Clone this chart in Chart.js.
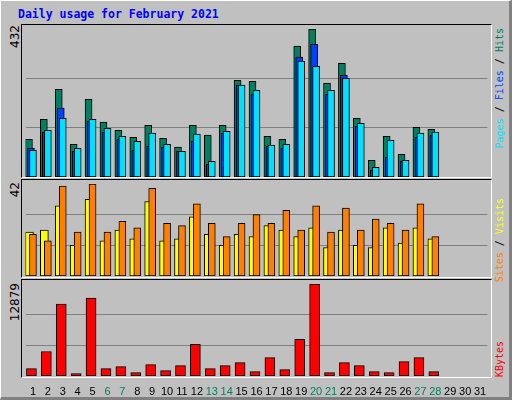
<!DOCTYPE html>
<html><head><meta charset="utf-8">
<script src="https://cdn.jsdelivr.net/npm/chart.js@4"></script>
<style>
body{margin:0;background:#fff;}
#frame{position:absolute;left:0;top:0;width:508px;height:396px;background:#c0c0c0;border-left:1px solid #fff;border-top:1px solid #fff;border-right:3px solid #808080;border-bottom:3px solid #808080;}
.panel{position:absolute;left:21px;width:469px;border-left:1px solid #000;border-top:1px solid #000;border-right:1px solid #fff;border-bottom:1px solid #fff;background:#c0c0c0;}
canvas{position:absolute;}
.v{position:absolute;writing-mode:vertical-rl;transform:rotate(180deg);white-space:nowrap;}
.lt{font-family:"DejaVu Sans",sans-serif;font-size:12px;color:#000;left:8px;}
.rt{font-family:"DejaVu Sans Mono",monospace;font-size:10px;left:494px;}
#title{position:absolute;left:18px;top:7px;font:bold 11.5px "DejaVu Sans Mono",monospace;color:#0000ff;}
</style></head><body>
<div id="frame"></div>
<div id="title">Daily usage for February 2021</div>
<div class="panel" style="top:24px;height:152px"></div>
<div class="panel" style="top:179px;height:97px"></div>
<div class="panel" style="top:279px;height:97px"></div>
<div class="v lt" style="top:25px">432</div>
<div class="v lt" style="top:182px">42</div>
<div class="v lt" style="top:283px">12879</div>
<div class="v rt" style="top:28px"><span style="color:#00e0ff">Pages</span> / <span style="color:#0040ff">Files</span> / <span style="color:#008060">Hits</span></div>
<div class="v rt" style="top:198px"><span style="color:#ff8000">Sites</span> / <span style="color:#ffff00">Visits</span></div>
<div class="v rt" style="top:341px"><span style="color:#ff0000">KBytes</span></div>
<canvas id="c1" style="left:21px;top:25px;width:470px;height:152px"></canvas>
<canvas id="c2" style="left:21px;top:180px;width:470px;height:96px"></canvas>
<canvas id="c3" style="left:21px;top:280px;width:470px;height:118px"></canvas>
<script>
const days = Array.from({length:31},(_,i)=>String(i+1));
const weekendDays = ["6","7","13","14","20","21","27","28"];
const hits  = [110,168,256,95,227,160,136,116,151,113,87,151,122,151,282,279,119,110,382,432,274,332,171,49,119,66,145,139];
const files = [84,131,201,75,163,131,110,78,90,87,75,104,37,128,268,241,90,84,350,387,241,297,148,20,58,46,116,122];
const pages = [78,136,171,84,168,142,119,104,128,95,75,125,46,133,268,253,93,95,338,323,253,288,157,28,107,49,128,131];
const visits= [20,21,32,14,35,16,21,17,34,16,17,27,19,14,19,18,23,21,18,22,13,21,14,13,22,15,22,17];
const sites = [19,16,41,20,42,20,25,22,40,24,23,33,24,18,24,28,24,30,21,32,20,31,21,26,24,21,33,18];
const kbytes= [1030,3430,10060,330,10900,1030,1320,470,1600,750,1450,4420,1030,1450,1880,610,2580,890,5120,12879,470,1880,1450,610,470,2020,2580,610];
const maxHits=432, maxSites=42, maxKB=12879;

const shiftPlugin={id:'shift',afterDatasetsUpdate(chart){
  chart.data.datasets.forEach((ds,i)=>{
    const m=chart.getDatasetMeta(i);
    m.data.forEach(el=>{el.x+= (ds.shift||0);});
  });
}};
function yScale(max){
  return {min:0,max:max,afterBuildTicks:s=>{s.ticks=[{value:max/3},{value:2*max/3}];},
    ticks:{display:false},border:{display:false},grid:{color:'#808080',lineWidth:1,drawTicks:false},
    afterFit:s=>{s.width=0;}};
}
function ds(data,color,w,shift,order){
  return {data,backgroundColor:color,borderColor:'#000',borderWidth:1,barThickness:w,shift,order,grouped:false,borderSkipped:false};
}
function make(id,datasets,max,showX){
  const x={display:showX,grid:{display:false},border:{display:false},
    ticks:{autoSkip:false,maxRotation:0,padding:1,font:{family:'Liberation Sans',size:11},
      color:c=>weekendDays.includes(days[c.index])?'#008060':'#000'}};
  if(showX) x.afterFit=s=>{s.height=22;};
  new Chart(document.getElementById(id),{type:'bar',
    data:{labels:days,datasets},
    plugins:[shiftPlugin],
    options:{responsive:false,animation:false,devicePixelRatio:1,
      layout:{padding:{left:4.5,right:3.5,top:4,bottom:0}},
      plugins:{legend:{display:false},tooltip:{enabled:false}},
      scales:{x,y:yScale(max)}}});
}
document.getElementById('c1').width=470;document.getElementById('c1').height=152;
document.getElementById('c2').width=470;document.getElementById('c2').height=96;
document.getElementById('c3').width=470;document.getElementById('c3').height=118;
make('c1',[ds(hits,'#008060',7,-4,3),ds(files,'#0040ff',7,-2,2),ds(pages,'#00e0ff',7,0,1)],maxHits,false);
make('c2',[ds(visits,'#ffff00',8,-3.5,2),ds(sites,'#ff8000',7,0,1)],maxSites,false);
make('c3',[ds(kbytes,'#ff0000',10,-1.5,1)],maxKB,true);
</script></body></html>
